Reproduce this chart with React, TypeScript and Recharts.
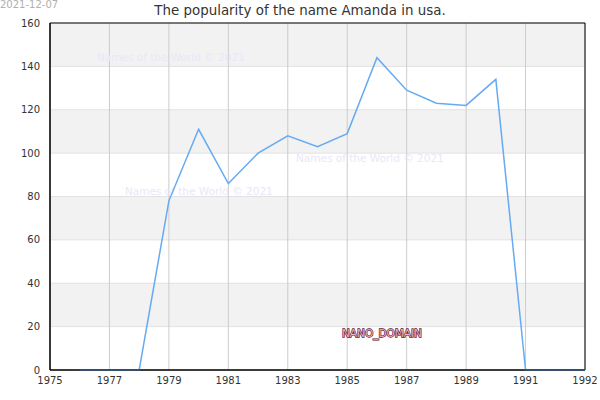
import React from 'react';
import {
  LineChart,
  Line,
  XAxis,
  YAxis,
  CartesianGrid,
  ReferenceArea,
  Customized,
} from 'recharts';

const years = [1976, 1977, 1978, 1979, 1980, 1981, 1982, 1983, 1984, 1985, 1986, 1987, 1988, 1989, 1990, 1991, 1992, 1993];
const counts = [0, 0, 0, 78, 111, 86, 100, 108, 103, 109, 144, 129, 123, 122, 134, 0, 0, 0];
const xTicks = [1975, 1977, 1979, 1981, 1983, 1985, 1987, 1989, 1991, 1993];
const xTickLabels = ['1975', '1977', '1979', '1981', '1983', '1985', '1987', '1989', '1991', '1992'];
const yTicks = [0, 20, 40, 60, 80, 100, 120, 140, 160];
const titleText = 'The popularity of the name Amanda in usa.';
const dateText = '2021-12-07';
const watermarkText = 'Names of the World © 2021';
const domainText = 'NANO_DOMAIN';

const data = years.map((y, i) => ({ year: y, count: counts[i] }));

const font = 'DejaVu Sans, sans-serif';

const Watermarks = () => (
  <g style={{ fontFamily: font }}>
    <text x={97} y={61} fontSize={10.5} fill="#e8e8f8">
      {watermarkText}
    </text>
    <text x={296} y={162} fontSize={10.5} fill="#e8e8f8">
      {watermarkText}
    </text>
    <text x={125} y={195} fontSize={10.5} fill="#e8e8f8">
      {watermarkText}
    </text>
  </g>
);

const Overlay = () => (
  <g style={{ fontFamily: font }}>
    <text x={0} y={8} fontSize={10} fill="#b0b0b0">
      {dateText}
    </text>
    <text x={300} y={15} fontSize={13.4} fill="#333" textAnchor="middle">
      {titleText}
    </text>
    <text
      x={382}
      y={337}
      fontSize={10.5}
      textAnchor="middle"
      fill="#e9b6ca"
      stroke="#5c1533"
      strokeWidth={1.3}
      paintOrder="stroke"
    >
      {domainText}
    </text>
  </g>
);

export default function App() {
  return (
    <div style={{ position: 'absolute', left: 0, top: 0, width: 600, height: 400, background: '#fff' }}>
      <LineChart
        width={600}
        height={400}
        data={data}
        margin={{ top: 23, right: 15, bottom: 0, left: 0 }}
        style={{ fontFamily: font }}
      >
        <CartesianGrid
          vertical={false}
          horizontal={false}
          horizontalFill={['#f2f2f2', '#ffffff']}
          fillOpacity={1}
        />
        <CartesianGrid
          vertical={false}
          stroke="none"
          horizontalFill={['#f2f2f2', '#ffffff']}
          fillOpacity={1}
        />
        <Customized component={Watermarks} />
        <CartesianGrid vertical={false} stroke="#e2e2e2" strokeWidth={1} />
        <CartesianGrid horizontal={false} stroke="#cccccc" strokeWidth={1} />
        <XAxis
          dataKey="year"
          type="number"
          domain={[1975, 1993]}
          ticks={xTicks}
          interval={0}
          tickFormatter={(v: number) => xTickLabels[xTicks.indexOf(v)]}
          tick={{ fontSize: 10, fill: '#333' }}
          tickLine={false}
          tickSize={0}
          tickMargin={7}
          axisLine={{ stroke: '#000' }}
          height={30}
        />
        <YAxis
          domain={[0, 160]}
          ticks={yTicks}
          interval={0}
          tick={{ fontSize: 10, fill: '#333' }}
          tickLine={false}
          tickSize={0}
          tickMargin={10}
          axisLine={{ stroke: '#000' }}
          width={50}
        />
        <ReferenceArea x1={1975} x2={1993} y1={0} y2={160} fill="none" stroke="#000" strokeWidth={1} />
        <Line
          type="linear"
          dataKey="count"
          stroke="#66aaf2"
          strokeWidth={1.5}
          dot={false}
          isAnimationActive={false}
        />
        <Customized component={Overlay} />
      </LineChart>
    </div>
  );
}
